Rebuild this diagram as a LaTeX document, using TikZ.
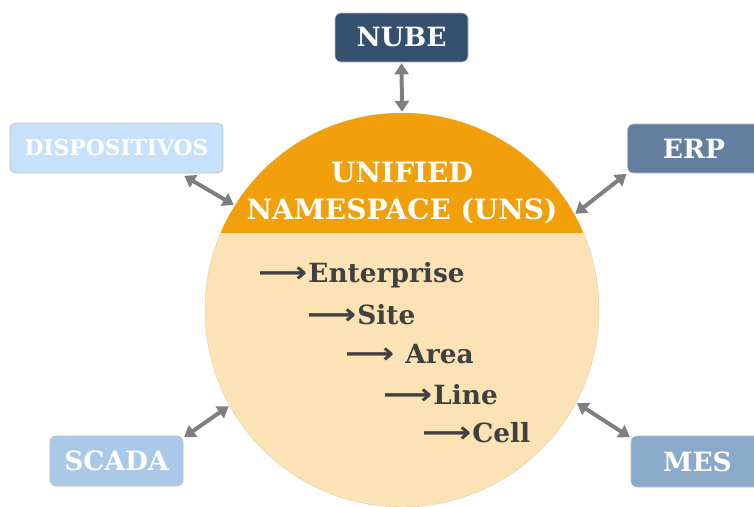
\documentclass[tikz,border=0pt]{standalone}
\usepackage{fontspec}
\setmainfont{DejaVu Serif}
\newfontfamily\arrowfont{DejaVu Sans}
\usetikzlibrary{arrows.meta}
\definecolor{nubec}{HTML}{35506F}
\definecolor{erpc}{HTML}{627F9F}
\definecolor{dispc}{HTML}{C7E1FB}
\definecolor{scadac}{HTML}{AAC9E8}
\definecolor{mesc}{HTML}{8BA9C9}
\definecolor{capc}{HTML}{F19F0A}
\definecolor{peachc}{HTML}{FCE3B5}
\definecolor{linkc}{HTML}{7F7F7F}
\definecolor{levelc}{HTML}{404040}
\newcommand{\lvlarrow}{{\arrowfont\bfseries\scalebox{1.3}[1.1]{⟶}}\hspace{1pt}}
\tikzset{
  sysbox/.style={draw=black!25, line width=0.6pt, rounded corners=6pt, minimum width=133pt, minimum height=49pt, inner sep=0pt, text=white, font=\bfseries\fontsize{26.5}{32}\selectfont},
  link/.style={draw=linkc, line width=4pt, {Triangle[length=11pt,width=14pt]}-{Triangle[length=11pt,width=14pt]}, shorten <=1pt, shorten >=1pt},
  level/.style={anchor=west, inner sep=0pt, text=levelc, font=\bfseries\fontsize{26.4}{30}\selectfont},
}
\begin{document}
\begin{tikzpicture}[x=1pt,y=-1pt]
\useasboundingbox (0,0) rectangle (754,506);
% circle
\node[circle, fill=peachc, draw=peachc!90!black, line width=0.4pt, minimum size=394pt, inner sep=0pt] (uns) at (402,310) {};
\begin{scope}
  \clip (402,310) circle (197pt);
  \fill[capc] (200,100) rectangle (610,233);
\end{scope}
\node[align=center, text=white, font=\bfseries\fontsize{28}{37}\selectfont] (title) at (402,193) {UNIFIED\\NAMESPACE (UNS)};
% boxes
\node[sysbox, fill=nubec] (nube) at (401.5,37.5) {NUBE};
\node[sysbox, fill=dispc, minimum width=213pt, minimum height=50pt, font=\bfseries\fontsize{21.8}{26}\selectfont] (disp) at (116.5,148) {DISPOSITIVOS};
\node[sysbox, fill=erpc] (erp) at (694,148.5) {ERP};
\node[sysbox, fill=scadac, minimum height=50pt] (scada) at (116.5,461) {SCADA};
\node[sysbox, fill=mesc, minimum height=51pt] (mes) at (697.5,461.5) {MES};
% links
\draw[link] (nube.south) -- (uns.north);
\draw[link] ([xshift=-40pt,yshift=-2pt]disp.south east) -- (uns.148.8);
\draw[link] (erp.south west) -- (uns.29.5);
\draw[link] ([yshift=-2pt]scada.north east) -- (uns.209.1);
\draw[link] ([yshift=-2pt]mes.north west) -- (uns.332.4);
% levels
\node[level] (l1) at (258,275) {\lvlarrow Enterprise};
\node[level] (l2) at (307,315) {\lvlarrow Site};
\node[level] (l3) at (345,354) {\lvlarrow\hspace{10pt}Area};
\node[level] (l4) at (383,395) {\lvlarrow Line};
\node[level] (l5) at (422,433) {\lvlarrow Cell};
\end{tikzpicture}
\end{document}
